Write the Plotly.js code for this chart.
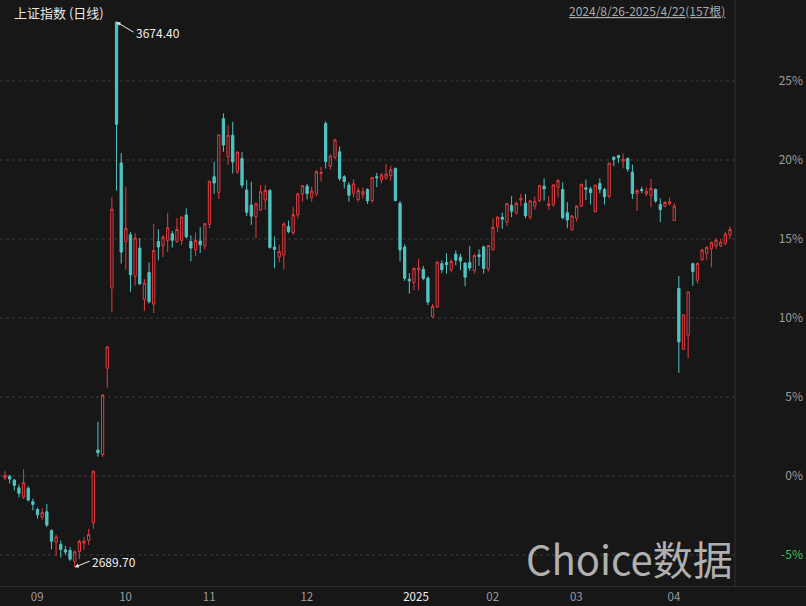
<!DOCTYPE html>
<html>
<head>
<meta charset="utf-8">
<script src="https://cdn.plot.ly/plotly-3.0.1.min.js"></script>
<style>
html,body{margin:0;padding:0;background:#171717;}
#chart{width:806px;height:606px;}
</style>
</head>
<body>
<div id="chart"></div>
<script>
// 上证指数 daily candles, 2024/8/26 - 2025/4/22 (157 bars)
const baseClose = 2854.37; // close of 2024-08-23, the 0% reference

const dates = [
'2024-08-26','2024-08-27','2024-08-28','2024-08-29','2024-08-30',
'2024-09-02','2024-09-03','2024-09-04','2024-09-05','2024-09-06','2024-09-09','2024-09-10','2024-09-11','2024-09-12','2024-09-13',
'2024-09-18','2024-09-19','2024-09-20','2024-09-23','2024-09-24','2024-09-25','2024-09-26','2024-09-27','2024-09-30',
'2024-10-08','2024-10-09','2024-10-10','2024-10-11','2024-10-14','2024-10-15','2024-10-16','2024-10-17','2024-10-18',
'2024-10-21','2024-10-22','2024-10-23','2024-10-24','2024-10-25','2024-10-28','2024-10-29','2024-10-30','2024-10-31',
'2024-11-01','2024-11-04','2024-11-05','2024-11-06','2024-11-07','2024-11-08','2024-11-11','2024-11-12','2024-11-13','2024-11-14','2024-11-15',
'2024-11-18','2024-11-19','2024-11-20','2024-11-21','2024-11-22','2024-11-25','2024-11-26','2024-11-27','2024-11-28','2024-11-29',
'2024-12-02','2024-12-03','2024-12-04','2024-12-05','2024-12-06','2024-12-09','2024-12-10','2024-12-11','2024-12-12','2024-12-13',
'2024-12-16','2024-12-17','2024-12-18','2024-12-19','2024-12-20','2024-12-23','2024-12-24','2024-12-25','2024-12-26','2024-12-27','2024-12-30','2024-12-31',
'2025-01-02','2025-01-03','2025-01-06','2025-01-07','2025-01-08','2025-01-09','2025-01-10','2025-01-13','2025-01-14','2025-01-15','2025-01-16','2025-01-17',
'2025-01-20','2025-01-21','2025-01-22','2025-01-23','2025-01-24','2025-01-27',
'2025-02-05','2025-02-06','2025-02-07','2025-02-10','2025-02-11','2025-02-12','2025-02-13','2025-02-14','2025-02-17','2025-02-18','2025-02-19','2025-02-20','2025-02-21',
'2025-02-24','2025-02-25','2025-02-26','2025-02-27','2025-02-28',
'2025-03-03','2025-03-04','2025-03-05','2025-03-06','2025-03-07','2025-03-10','2025-03-11','2025-03-12','2025-03-13','2025-03-14',
'2025-03-17','2025-03-18','2025-03-19','2025-03-20','2025-03-21','2025-03-24','2025-03-25','2025-03-26','2025-03-27','2025-03-28','2025-03-31',
'2025-04-01','2025-04-02','2025-04-03','2025-04-07','2025-04-08','2025-04-09','2025-04-10','2025-04-11','2025-04-14','2025-04-15','2025-04-16','2025-04-17','2025-04-18','2025-04-21','2025-04-22'
];

const openP = [
2851.0,2853.8,2847.0,2833.0,2816.5,
2832.0,2808.0,2794.0,2780.0,2790.0,2756.0,2735.0,2731.0,2721.0,2720.0,
2700.0,2718.0,2733.0,2738.0,2770.0,2901.4,2893.1,3049.1,3194.0,
3674.40,3420.0,3278.0,3290.0,3215.0,3266.0,3173.0,3222.0,3165.0,
3278.0,3270.0,3280.0,3292.0,3278.0,3280.0,3326.0,3278.0,3263.0,
3279.0,3270.0,3309.0,3395.0,3367.0,3500.0,3431.0,3470.0,3404.0,3428.0,3371.0,
3344.0,3322.8,3335.0,3353.0,3370.0,3268.0,3250.0,3254.0,3305.0,3294.0,
3326.0,3364.0,3378.0,3358.0,3364.0,3401.0,3491.0,3414.0,3430.0,3440.0,
3395.0,3380.0,3365.0,3354.0,3363.0,3372.0,3352.0,3395.0,3389.0,3393.0,3397.0,3410.0,
3347.0,3268.0,3210.0,3204.0,3227.0,3228.0,3212.0,3142.0,3160.0,3238.0,3240.0,3227.0,
3255.0,3250.0,3239.0,3240.0,3225.0,3254.0,
3268.0,3228.0,3263.0,3305.0,3322.0,3313.0,3343.0,3330.0,3353.0,3347.0,3322.0,3342.0,3352.0,
3378.0,3343.0,3345.0,3376.0,3372.0,
3330.0,3299.0,3320.0,3342.0,3375.0,3373.0,3332.0,3383.0,3372.0,3360.0,
3430.0,3433.0,3423.0,3428.0,3403.0,3365.0,3372.0,3364.0,3361.0,3372.0,3345.0,
3342.0,3346.0,3316.0,3193.3,3083.3,3109.0,3238.0,3208.0,3245.0,3257.0,3265.0,3270.0,3270.0,3275.0,3290.0
];

const highP = [
2863.1,2856.6,2849.3,2838.7,2866.7,
2836.0,2813.5,2797.0,2796.0,2803.8,2758.0,2748.0,2738.0,2728.0,2726.0,
2720.0,2739.6,2744.0,2759.0,2863.1,2952.4,3000.95,3087.5,3358.6,
3674.40,3438.0,3377.0,3295.0,3293.0,3284.0,3210.0,3240.0,3310.0,
3300.0,3290.0,3330.0,3297.0,3320.0,3323.0,3338.0,3289.0,3294.0,
3304.0,3311.0,3387.0,3422.0,3471.0,3509.6,3488.0,3494.0,3441.0,3440.0,3389.0,
3386.0,3349.0,3380.0,3380.0,3373.0,3287.0,3272.0,3313.0,3316.0,3340.0,
3366.0,3380.0,3382.0,3377.0,3407.0,3413.0,3495.0,3436.0,3464.0,3450.0,
3398.0,3385.0,3390.0,3376.0,3375.0,3374.0,3394.0,3402.0,3402.0,3418.0,3415.0,3412.0,
3351.0,3273.0,3221.0,3231.0,3247.0,3234.0,3215.0,3165.0,3241.0,3244.0,3257.0,3247.0,
3262.0,3256.0,3240.0,3270.0,3256.0,3264.0,
3271.0,3271.0,3320.0,3323.0,3330.0,3347.0,3360.0,3350.0,3364.0,3364.0,3352.0,3359.0,3380.0,
3392.0,3360.0,3381.0,3391.0,3385.0,
3349.0,3326.0,3344.0,3383.0,3390.0,3377.0,3381.0,3392.0,3375.0,3420.0,
3432.0,3435.0,3437.0,3430.0,3417.0,3372.0,3377.0,3376.0,3391.0,3374.0,3356.0,
3351.0,3357.0,3347.0,3215.7,3145.6,3187.0,3240.0,3240.0,3265.0,3270.0,3278.0,3283.0,3282.0,3296.0,3305.0
];

const lowP = [
2846.4,2840.9,2828.3,2815.6,2812.7,
2808.0,2792.3,2777.0,2775.0,2762.0,2722.0,2710.0,2707.0,2712.0,2701.0,
2689.70,2704.0,2721.0,2730.0,2759.0,2889.0,2889.1,3014.0,3150.0,
3370.0,3238.0,3227.0,3187.0,3198.0,3201.0,3152.8,3166.0,3148.5,
3244.0,3250.0,3259.0,3267.0,3276.0,3272.0,3284.0,3242.0,3252.0,
3257.0,3263.0,3302.0,3364.0,3355.0,3440.0,3416.0,3401.0,3400.0,3375.0,3324.0,
3308.0,3284.0,3333.0,3335.0,3265.0,3229.5,3240.0,3227.0,3293.0,3290.0,
3320.0,3350.0,3354.0,3350.0,3360.0,3386.0,3410.0,3408.0,3426.0,3388.0,
3374.0,3350.0,3358.0,3350.0,3355.0,3346.0,3348.0,3376.0,3383.0,3389.0,3388.0,3351.0,
3242.0,3207.0,3184.0,3190.0,3190.0,3208.0,3163.0,3140.0,3158.0,3221.0,3220.0,3222.0,
3235.0,3226.0,3197.0,3225.0,3220.0,3234.0,
3220.0,3224.0,3262.0,3295.0,3301.0,3306.0,3322.0,3326.0,3342.0,3320.0,3318.0,3335.0,3349.0,
3352.0,3335.0,3340.0,3358.0,3318.0,
3302.0,3298.0,3314.0,3340.0,3353.0,3345.0,3330.0,3365.0,3345.0,3356.0,
3414.0,3420.0,3410.0,3404.0,3355.0,3333.0,3365.0,3360.0,3340.0,3348.0,3313.0,
3340.0,3343.0,3315.0,3040.69,3083.0,3067.0,3198.0,3202.0,3243.0,3245.0,3231.5,3264.0,3268.0,3271.0,3283.0
];

const closeP = [
2855.52,2848.77,2837.43,2823.11,2842.21,
2811.04,2802.98,2784.28,2788.22,2765.81,2736.49,2744.19,2721.80,2717.12,2704.09,
2717.28,2736.02,2736.81,2748.92,2863.13,2896.31,3000.95,3087.53,3336.50,
3489.78,3258.86,3301.93,3217.74,3284.32,3201.29,3202.95,3169.38,3261.56,
3268.11,3285.87,3302.80,3280.26,3299.70,3322.20,3286.41,3266.24,3279.82,
3272.01,3310.21,3386.99,3383.81,3470.66,3452.30,3470.07,3421.97,3439.28,3379.84,3330.73,
3323.85,3346.01,3367.99,3370.40,3267.19,3263.76,3259.76,3309.78,3295.70,3326.46,
3363.98,3378.81,3364.65,3368.86,3404.08,3402.53,3422.66,3432.49,3461.50,3391.88,
3386.33,3361.49,3382.21,3370.03,3368.07,3351.26,3393.53,3393.35,3398.08,3400.14,3407.33,3351.76,
3262.56,3211.43,3206.92,3229.64,3230.17,3211.39,3168.52,3160.76,3240.94,3227.12,3236.03,3241.82,
3244.38,3242.62,3213.62,3230.16,3252.63,3250.60,
3229.49,3270.66,3303.67,3322.17,3318.06,3346.39,3332.48,3346.72,3355.83,3324.49,3351.54,3350.78,3379.11,
3373.03,3346.04,3380.21,3388.06,3320.90,
3316.93,3324.21,3341.96,3381.10,3372.55,3366.16,3379.83,3371.92,3358.73,3419.56,
3426.13,3429.76,3426.43,3408.95,3364.83,3370.03,3369.98,3368.70,3373.75,3351.31,3335.75,
3348.44,3350.13,3342.01,3096.58,3145.55,3186.81,3223.64,3238.23,3262.81,3267.66,3276.00,3280.34,3276.73,3291.43,3299.76
];

const monthLabels = ['09','10','11','12','2025','02','03','04'];
const pctTicks = [-5, 0, 5, 10, 15, 20, 25];

// ---------- derived ----------
const pct = v => (v / baseClose - 1) * 100;
const xIdx = dates.map((d, i) => i);
const W = 806, PLOT_BOTTOM = 586;
const pxPerBar = 4.6474, firstBarPx = 5;
const xr0 = -firstBarPx / pxPerBar, xr1 = xr0 + W / pxPerBar;
const sepPx = 735;
const sepX = xr0 + sepPx / pxPerBar;
const yr = [(476 - PLOT_BOTTOM) / 15.8, 476 / 15.8];
const px = p => p / W;
const py = p => (PLOT_BOTTOM - p) / PLOT_BOTTOM;

// month starts
const monthStarts = [];
for (let i = 1; i < dates.length; i++) {
  if (dates[i].slice(0, 7) !== dates[i - 1].slice(0, 7)) monthStarts.push(i);
}
const tickVals = monthStarts.map((s, k) => monthLabels[k] === '2025' ? s + 1.5 : s);
const tickText = monthLabels.map(m => m === '2025' ? '<span style="color:#f4f4f4">2025</span>' : m);

// extremes
let hiI = 0, loI = 0;
highP.forEach((v, i) => { if (v > highP[hiI]) hiI = i; });
lowP.forEach((v, i) => { if (v < lowP[loI]) loI = i; });

const RED = '#e23b3f', TEAL = '#52c3c3';

const trace = {
  type: 'candlestick',
  x: xIdx,
  open: openP.map(pct), high: highP.map(pct), low: lowP.map(pct), close: closeP.map(pct),
  text: dates, hoverinfo: 'text',
  increasing: { line: { color: RED, width: 1 }, fillcolor: 'rgba(0,0,0,0)' },
  decreasing: { line: { color: TEAL, width: 1 }, fillcolor: TEAL },
  whiskerwidth: 0,
  showlegend: false
};

const shapes = pctTicks.map(t => ({
  type: 'line', xref: 'x', yref: 'y', x0: xr0, x1: sepX, y0: t, y1: t,
  line: { color: '#3c3c3c', width: 1, dash: 'dot' }, layer: 'below'
}));
shapes.push({ type: 'line', xref: 'paper', yref: 'paper', x0: px(sepPx), x1: px(sepPx), y0: 0, y1: 1,
  line: { color: '#303030', width: 1 } });

const FONT = '"Noto Sans CJK SC", "Noto Sans", sans-serif';

const annotations = [
  { xref: 'paper', yref: 'paper', x: px(12), y: py(13), xanchor: 'left', yanchor: 'middle', showarrow: false,
    text: '上证指数 (日线)', font: { family: FONT, size: 13, color: '#e6e6e6' } },
  { xref: 'paper', yref: 'paper', x: px(727), y: py(11), xanchor: 'right', yanchor: 'middle', showarrow: false,
    text: '<u>' + '2024/8/26-2025/4/22(157根)' + '</u>', font: { family: FONT, size: 12, color: '#a9a9a9' } },
  { xref: 'paper', yref: 'paper', x: px(735), y: py(558), xanchor: 'right', yanchor: 'middle', showarrow: false,
    text: 'Choice数据', font: { family: FONT, size: 40, color: 'rgba(205,205,205,0.85)' } },
  { x: hiI, y: pct(highP[hiI]), text: highP[hiI].toFixed(2), xanchor: 'left', yanchor: 'middle',
    showarrow: true, arrowhead: 2, arrowsize: 0.8, arrowwidth: 1, arrowcolor: '#eeeeee', ax: 17, ay: 10,
    font: { family: FONT, size: 12, color: '#f0f0f0' } },
  { x: loI, y: pct(lowP[loI]), text: lowP[loI].toFixed(2), xanchor: 'left', yanchor: 'middle',
    showarrow: true, arrowhead: 2, arrowsize: 0.8, arrowwidth: 1, arrowcolor: '#eeeeee', ax: 15, ay: -6,
    font: { family: FONT, size: 12, color: '#f0f0f0' } }
];

const layout = {
  width: 806, height: 606,
  margin: { l: 0, r: 0, t: 0, b: 606 - PLOT_BOTTOM, pad: 0 },
  paper_bgcolor: '#171717', plot_bgcolor: '#171717',
  font: { family: FONT, color: '#9c9c9c', size: 12 },
  xaxis: {
    type: 'linear', range: [xr0, xr1], rangeslider: { visible: false },
    showgrid: false, zeroline: false, showline: true, linecolor: '#2f2f2f', linewidth: 1,
    tickmode: 'array', tickvals: tickVals, ticktext: tickText, ticks: '',
    ticklabelshift: 9, ticklabelstandoff: 0,
    tickfont: { family: FONT, size: 11.5, color: '#9c9c9c' }, fixedrange: true
  },
  yaxis: {
    range: yr, side: 'right', ticklabelposition: 'inside',
    showgrid: false, zeroline: false, showline: false,
    tickmode: 'array', tickvals: pctTicks,
    ticktext: pctTicks.map(t => t < 0 ? '<span style="color:#41c05a">' + t + '%</span>' : t + '%'),
    ticks: '', tickfont: { family: FONT, size: 12, color: '#9c9c9c' }, fixedrange: true
  },
  shapes: shapes,
  annotations: annotations,
  showlegend: false,
  hovermode: false
};

Plotly.newPlot('chart', [trace], layout, { displayModeBar: false, staticPlot: true });
</script>
</body>
</html>
